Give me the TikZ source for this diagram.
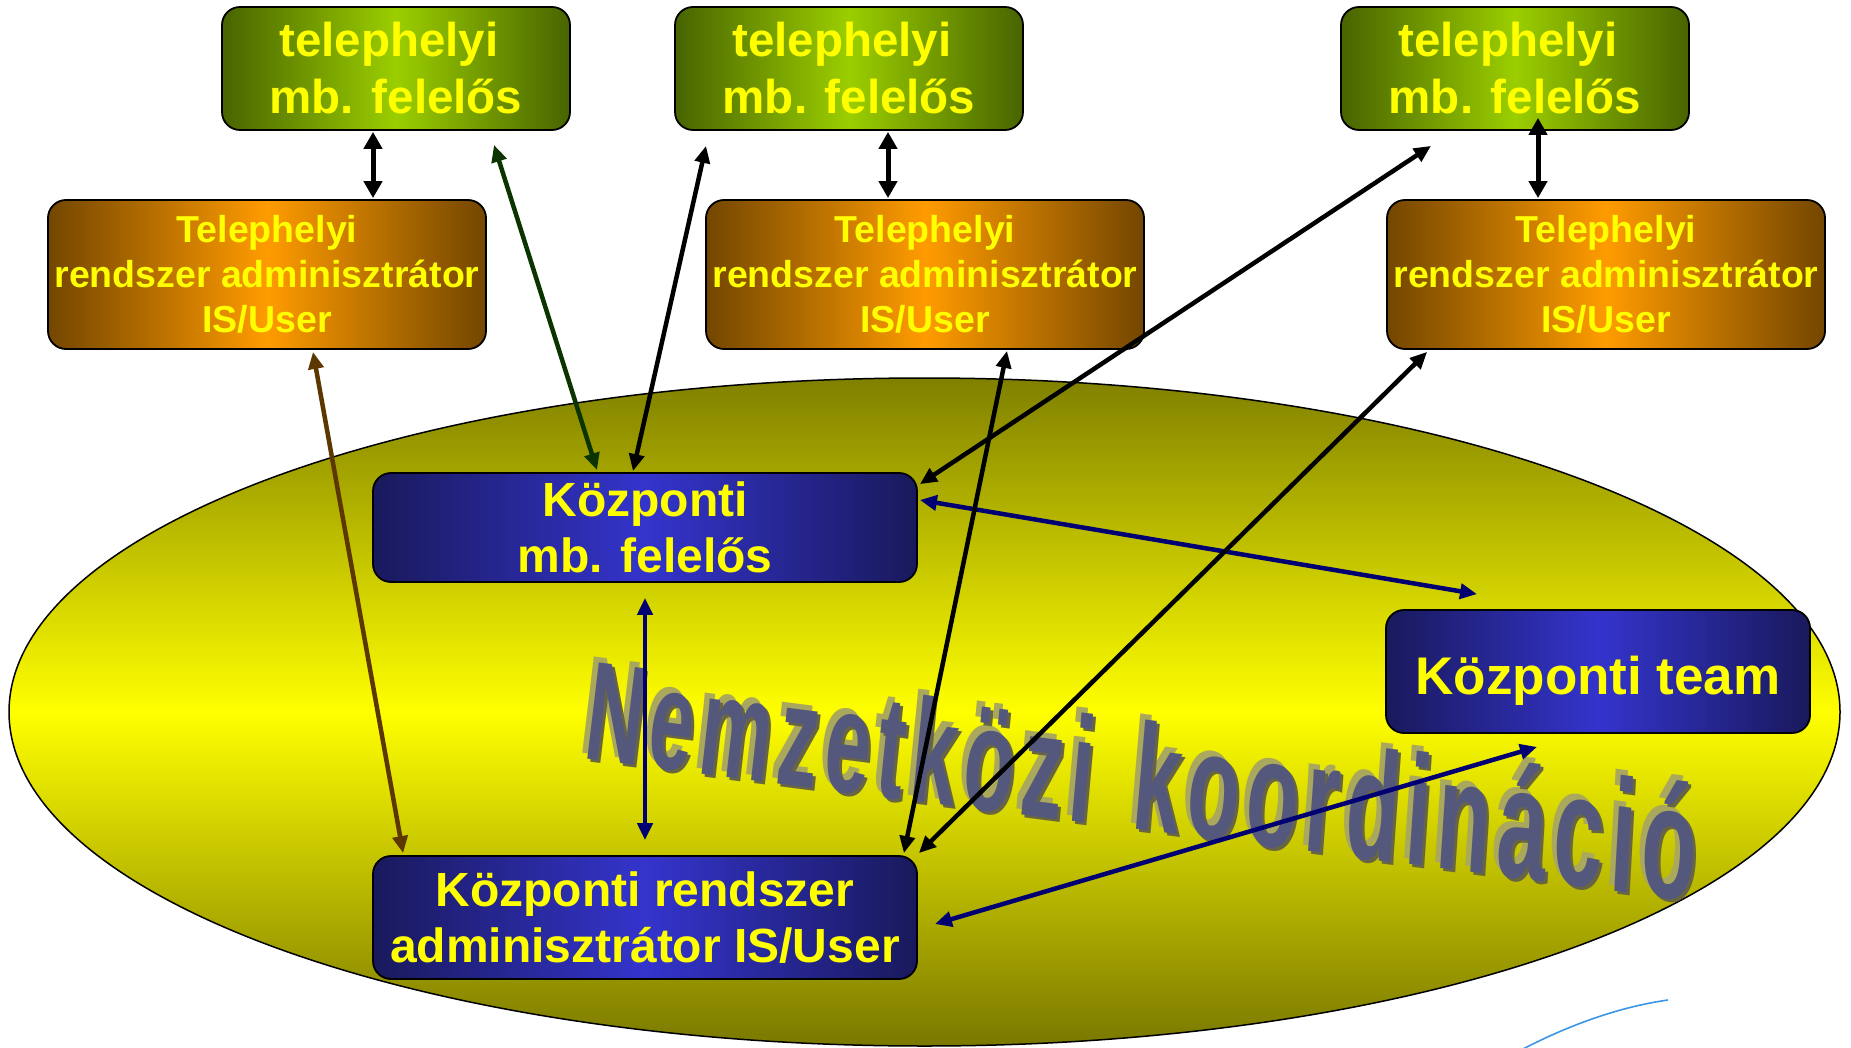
\documentclass[tikz,border=0pt]{standalone}
\usepackage{fontspec}
\setmainfont{Liberation Sans}
\usetikzlibrary{arrows.meta,calc}

\definecolor{gDark}{RGB}{72,100,0}
\definecolor{gLight}{RGB}{155,206,0}
\definecolor{oDark}{RGB}{115,70,0}
\definecolor{oLight}{RGB}{255,155,0}
\definecolor{bDark}{RGB}{25,25,92}
\definecolor{bLight}{RGB}{52,52,205}
\definecolor{txtYellow}{RGB}{255,255,0}
\definecolor{ellTop}{RGB}{128,128,0}
\definecolor{ellMid}{RGB}{255,255,0}
\definecolor{ellBot}{RGB}{122,120,0}
\definecolor{arrGreen}{RGB}{12,52,0}
\definecolor{arrBrown}{RGB}{92,56,0}
\definecolor{arrNavy}{RGB}{0,0,115}
\definecolor{wmLight}{RGB}{170,168,92}
\definecolor{wmDark}{RGB}{104,102,66}
\definecolor{wmFace}{RGB}{84,88,125}
\definecolor{swoosh}{RGB}{60,150,230}

\tikzset{
  box/.style={draw=black, line width=1.8pt, rounded corners=18pt, text=txtYellow,
    align=center, inner sep=0pt},
  greenbox/.style={box, left color=gDark, right color=gDark, middle color=gLight,
    minimum width=348pt, minimum height=123pt, font=\bfseries\fontsize{47.5}{57}\selectfont},
  orangebox/.style={box, left color=oDark, right color=oDark, middle color=oLight,
    minimum width=438pt, minimum height=149pt, font=\bfseries\fontsize{37.5}{45}\selectfont},
  bluebox/.style={box, left color=bDark, right color=bDark, middle color=bLight,
    minimum width=544pt, font=\bfseries\fontsize{48}{56}\selectfont},
  link/.style={line width=4.5pt, {Triangle[length=17pt,width=15pt]}-{Triangle[length=17pt,width=15pt]}},
  vlink/.style={line width=5pt, {Triangle[length=17pt,width=18pt]}-{Triangle[length=17pt,width=18pt]}},
  wm/.style={transform shape, anchor=base west, inner sep=0pt,
    font=\bfseries\fontsize{140}{140}\selectfont},
}

% One word of the slanted title: letters grow slightly to the right
% and sit on a descending baseline; each letter has two shadow layers.
\newcommand\wmword[1]{%
  \foreach \wmCh/\wmW in {#1}{%
    \pgfmathsetmacro\wmT{(\wmX-584)/1110}%
    \pgfmathsetmacro\wmF{(140+22*\wmT)/140}%
    \pgfmathsetmacro\wmA{0.56*\wmF}%
    \pgfmathsetmacro\wmB{-0.128*\wmA}%
    \pgfmathsetmacro\wmC{(0.12-0.07*\wmT)*\wmF}%
    \pgfmathsetmacro\wmY{759+0.128*(\wmX-584)}%
    \begin{scope}[shift={(\wmX-5,\wmY-6)}]
      \node[wm, text=wmLight, cm={\wmA,\wmB,\wmC,\wmF,(0,0)}] at (0,0) {\wmCh};
    \end{scope}
    \begin{scope}[shift={(\wmX+3,\wmY+3)}]
      \node[wm, text=wmDark, cm={\wmA,\wmB,\wmC,\wmF,(0,0)}] at (0,0) {\wmCh};
    \end{scope}
    \begin{scope}[shift={(\wmX,\wmY)}]
      \node[wm, text=wmFace, cm={\wmA,\wmB,\wmC,\wmF,(0,0)}] at (0,0) {\wmCh};
    \end{scope}
    \pgfmathsetmacro\wmN{\wmX+\wmW/1000*140*\wmA+7}%
    \xdef\wmX{\wmN}%
  }%
}

\begin{document}
\begin{tikzpicture}[x=1pt,y=-1pt]
\fill[white] (0,0) rectangle (1851,1048);
\useasboundingbox (0,0) rectangle (1851,1048);

% coordination area
\path[draw=black, line width=1.5pt, top color=ellTop, bottom color=ellBot, middle color=ellMid]
  (924.5,712) ellipse [x radius=915.5pt, y radius=334pt];

% slanted title
\gdef\wmX{582}
\wmword{N/722,e/556,m/889,z/500,e/556,t/333,k/556,ö/611,z/500,i/278}
\pgfmathsetmacro\wmSp{\wmX+10+278/1000*0.56*(140+22*(\wmX-584)/1110)}
\xdef\wmX{\wmSp}
\wmword{k/556,o/611,o/611,r/389,d/611,i/278,n/611,á/556,c/556,i/278,ó/611}

% site level
\node[greenbox] (G1) at (396,68.5) {telephelyi\kern14pt\relax\\mb. felelős};
\node[greenbox] (G2) at (849,68.5) {telephelyi\kern14pt\relax\\mb. felelős};
\node[greenbox] (G3) at (1515,68.5) {telephelyi\kern14pt\relax\\mb. felelős};

\node[orangebox] (O1) at (267,274.5) {Telephelyi\\rendszer adminisztrátor\\IS/User};
\node[orangebox] (O2) at (925,274.5) {Telephelyi\\rendszer adminisztrátor\\IS/User};
\node[orangebox] (O3) at (1606,274.5) {Telephelyi\\rendszer adminisztrátor\\IS/User};

% central level
\node[bluebox, minimum height=109pt] (B1) at (645,527.5) {Központi\\mb. felelős};
\node[bluebox, minimum height=123pt] (B2) at (645,917.5) {Központi rendszer\\adminisztrátor IS/User};
\node[bluebox, minimum width=424pt, minimum height=123pt,
      font=\bfseries\fontsize{53}{60}\selectfont, text depth=0pt, text height=46pt]
      (B3) at (1598,671.5) {Központi team};

% links
\draw[vlink] ($(G1.south)+(-23,1)$) -- ($(O1.north)+(106,-1)$);
\draw[vlink] ($(G2.south)+(39,1)$) -- ($(O2.north)+(-37,-1)$);
\draw[vlink] ($(G3.south)+(23,-13)$) -- ($(O3.north)+(-68,-1)$);
\draw[link, arrGreen] ($(B1.north)+(-48,-2)$) -- ($(G1.south)+(98,14)$);
\draw[link] ($(B1.north)+(-12,-1)$) -- ($(G2.south)+(-143,15)$);
\draw[link] ($(B1.north east)+(2,12)$) -- ($(G3.south)+(-84,15)$);
\draw[link, arrNavy] ($(B1.east)+(2,-27.5)$) -- ($(B3.north)+(-121,-15)$);
\draw[link] ($(O2.south)+(82,1)$) -- ($(B2.north east)+(-14,-2)$);
\draw[link] ($(O3.south west)+(41,2)$) -- ($(B2.north east)+(1,-2)$);
\draw[link, arrBrown] ($(O1.south)+(46,2)$) -- ($(B2.north west)+(31,-2)$);
\draw[link, arrNavy] ($(B1.south)+(0,15)$) -- ($(B2.north)+(0,-15)$);
\draw[link, arrNavy] ($(B3.south)+(-61,13)$) -- ($(B2.east)+(17,6.5)$);

% decorative swoosh
\draw[swoosh, line width=1.6pt] (1523,1049) .. controls (1575,1022) and (1625,1006) .. (1668,1000);
\end{tikzpicture}
\end{document}
